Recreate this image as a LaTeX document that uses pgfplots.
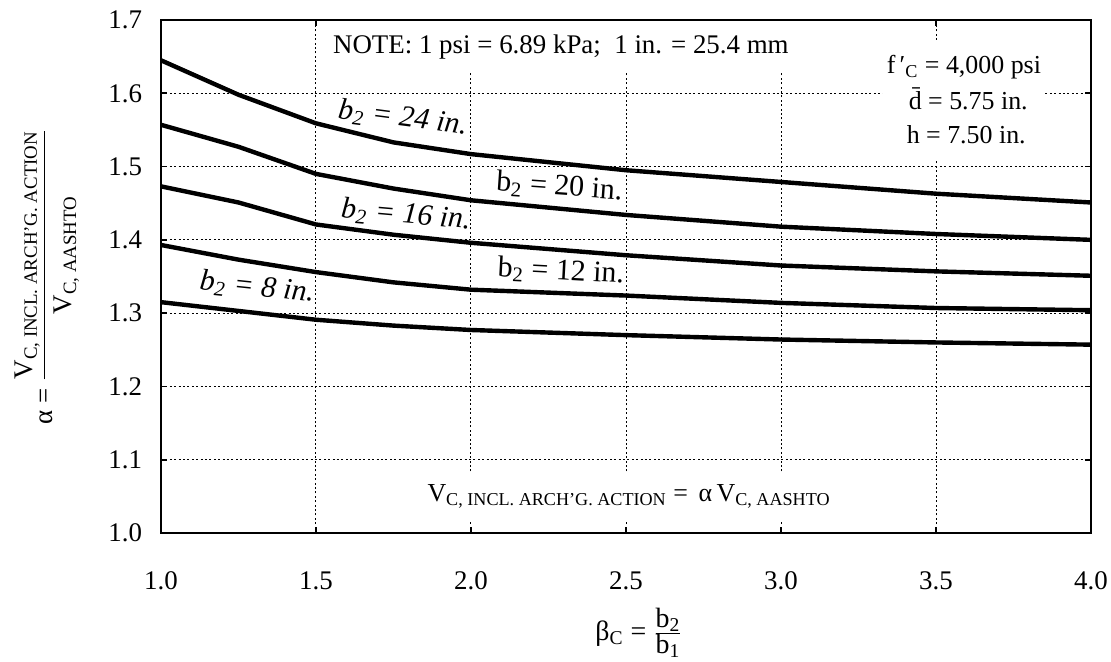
\documentclass[border=0pt]{standalone}
\usepackage{fontspec}
\setmainfont{Liberation Serif}
\usepackage{pgfplots}
\pgfplotsset{compat=1.18}
\begin{document}
\begin{tikzpicture}
\path[use as bounding box] (-80.5bp,-64.5bp) rectangle (475bp,266.5bp);
\begin{axis}[
  at={(0,0)}, anchor=south west,
  scale only axis, width=465bp, height=256.5bp,
  xmin=1, xmax=4, ymin=1, ymax=1.7,
  xtick={1,1.5,2,2.5,3,3.5,4},
  ytick={1,1.1,1.2,1.3,1.4,1.5,1.6,1.7},
  grid=major,
  grid style={black, line width=0.5bp, dash pattern=on 1bp off 1.2bp},
  axis line style={line width=1.2bp},
  tick style={black, line width=0.8bp},
  major tick length=3bp,
  /pgf/number format/assume math mode=true,
  xticklabel style={/pgf/number format/.cd, fixed, fixed zerofill, precision=1, /tikz/.cd, font=\fontsize{13.5}{15}\selectfont, yshift=-16bp},
  yticklabel style={/pgf/number format/.cd, fixed, fixed zerofill, precision=1, /tikz/.cd, font=\fontsize{13.5}{15}\selectfont, xshift=-6bp},
  clip=false,
]
\addplot[black, line width=2.2bp] coordinates {(1.0,1.645) (1.25,1.598) (1.5,1.559) (1.75,1.533) (2.0,1.517) (2.5,1.495) (3.0,1.479) (3.5,1.463) (4.0,1.451)};
\addplot[black, line width=2.2bp] coordinates {(1.0,1.557) (1.25,1.527) (1.5,1.490) (1.75,1.470) (2.0,1.454) (2.5,1.434) (3.0,1.418) (3.5,1.408) (4.0,1.400)};
\addplot[black, line width=2.2bp] coordinates {(1.0,1.473) (1.25,1.451) (1.5,1.421) (1.75,1.407) (2.0,1.396) (2.5,1.379) (3.0,1.365) (3.5,1.357) (4.0,1.351)};
\addplot[black, line width=2.2bp] coordinates {(1.0,1.393) (1.25,1.373) (1.5,1.356) (1.75,1.342) (2.0,1.332) (2.5,1.324) (3.0,1.314) (3.5,1.307) (4.0,1.304)};
\addplot[black, line width=2.2bp] coordinates {(1.0,1.315) (1.25,1.303) (1.5,1.291) (1.75,1.283) (2.0,1.277) (2.5,1.270) (3.0,1.264) (3.5,1.260) (4.0,1.257)};

\node[fill=white, inner xsep=3bp, inner ysep=7bp, font=\fontsize{13.5}{15}\selectfont] at (axis cs:2.29,1.663) {NOTE: 1 psi = 6.89 kPa;\ \ 1 in. = 25.4 mm};
\node[fill=white, inner xsep=2bp, inner ysep=8bp, font=\fontsize{13}{17}\selectfont, align=left] at (axis cs:3.59,1.591) {f\,′\textsubscript{C} = 4,000 psi\\[1bp]\hspace*{11bp}\={d} = 5.75 in.\\\hspace*{10bp}h = 7.50 in.};
\node[fill=white, inner xsep=3bp, inner ysep=6bp, font=\fontsize{13}{15}\selectfont] at (axis cs:2.51,1.05) {V\textsubscript{C, INCL. ARCH’G. ACTION} = \,α\,V\textsubscript{C, AASHTO}};

\node[rotate=-7.4, inner sep=1bp, font=\fontsize{15}{17}\selectfont\itshape] at (axis cs:1.78,1.566) {b\textsubscript{2} = 24 in.};
\node[rotate=-4, inner sep=1bp, font=\fontsize{15}{17}\selectfont] at (axis cs:2.285,1.472) {b\textsubscript{2} = 20 in.};
\node[rotate=-5, inner sep=1bp, font=\fontsize{15}{17}\selectfont\itshape] at (axis cs:1.79,1.434) {b\textsubscript{2} = 16 in.};
\node[rotate=-3, inner sep=1bp, font=\fontsize{15}{17}\selectfont] at (axis cs:2.29,1.357) {b\textsubscript{2} = 12 in.};
\node[rotate=-6, inner sep=1bp, font=\fontsize{15}{17}\selectfont\itshape] at (axis cs:1.31,1.335) {b\textsubscript{2} = 8 in.};
\end{axis}
\node[rotate=90, font=\fontsize{13.5}{15}\selectfont] at (-57bp,128.25bp) {α = $\displaystyle\frac{\mbox{V\textsubscript{C, INCL. ARCH’G. ACTION}}}{\mbox{V\textsubscript{C, AASHTO}}}$};
\node[font=\fontsize{14}{16}\selectfont] at (239bp,-50bp) {β\textsubscript{C} = $\frac{\mbox{b\textsubscript{2}}}{\mbox{b\textsubscript{1}}}$};
\end{tikzpicture}
\end{document}
